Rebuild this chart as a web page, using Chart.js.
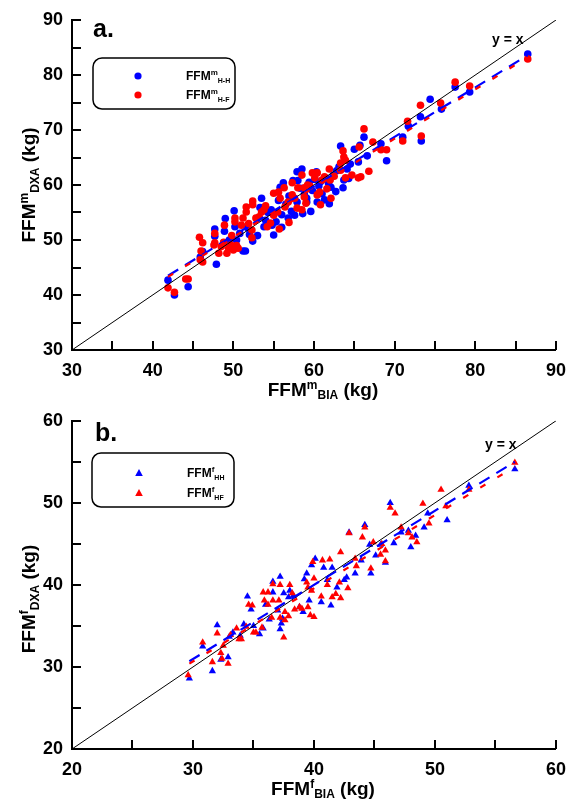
<!DOCTYPE html>
<html>
<head>
<meta charset="utf-8">
<script src="https://cdn.jsdelivr.net/npm/chart.js@4.4.1/dist/chart.umd.min.js"></script>
<style>
    body { margin: 0; background: #fff; }
    canvas { display: block; }
</style>
</head>
<body>
<canvas id="maleChart" width="576" height="401"></canvas>
<canvas id="femaleChart" width="576" height="402"></canvas>
<script>
// FFM male (kg): [BIA, DXA]
const maleHH = [
    [41.9,42.7],[42.7,40.0],[44.4,41.5],[45.9,46.9],[46.2,47.9],[47.9,45.6],[47.7,52.0],[47.7,50.7],[48.8,49.5],[48.9,51.6],
    [49.0,53.9],[49.5,50.0],[50.1,55.3],[50.2,52.4],[50.4,50.0],[50.8,51.2],[51.2,48.0],[51.5,48.0],[51.8,52.2],[52.0,51.0],
    [52.4,49.8],[52.9,53.8],[53.0,50.8],[53.3,55.9],[53.5,57.6],[53.8,52.4],[54.0,53.6],[54.3,55.0],[54.7,55.5],[54.8,52.7],
    [55.0,50.9],[55.3,53.3],[55.6,57.2],[55.8,59.6],[56.0,54.6],[56.0,52.3],[56.2,60.4],[56.5,56.5],[56.8,54.0],[56.9,58.0],
    [57.2,55.2],[57.4,60.8],[57.6,54.5],[57.9,62.4],[57.9,56.9],[58.0,60.8],[58.3,59.4],[58.5,62.9],[58.6,54.8],[58.8,58.3],
    [59.1,57.6],[59.1,56.9],[59.4,60.5],[59.6,55.2],[59.8,59.0],[60.1,61.0],[60.3,62.4],[60.4,56.9],[60.6,59.8],[60.8,60.6],
    [61.0,58.4],[61.3,57.3],[61.5,61.2],[61.8,60.3],[61.9,56.6],[62.1,59.6],[62.4,61.8],[62.7,58.8],[62.8,62.6],[63.1,63.3],
    [63.3,67.1],[63.6,59.5],[63.7,60.9],[64.1,62.9],[64.3,61.2],[64.5,63.8],[65.0,66.5],[65.5,64.2],[65.7,67.2],[66.2,68.7],
    [66.6,65.3],[68.3,67.5],[69.0,64.4],[71.0,68.7],[71.7,70.7],[73.2,72.4],[73.3,68.0],[74.4,75.6],[75.8,73.8],[77.5,77.8],
    [79.3,76.9],[86.5,83.8]
];
const maleHF = [
    [41.9,41.3],[42.7,40.5],[44.1,42.9],[44.4,42.9],[45.8,50.5],[45.9,46.4],[46.0,48.0],[46.2,49.5],[46.2,46.0],[47.6,49.1],
    [47.7,51.2],[47.7,49.5],[48.2,47.6],[48.5,48.8],[48.8,49.6],[48.9,52.7],[49.2,47.6],[49.4,48.5],[49.7,49.1],[49.8,50.8],
    [50.0,48.2],[50.2,54.0],[50.2,53.3],[50.4,49.0],[50.6,48.5],[51.0,52.7],[51.2,54.0],[51.6,56.0],[51.6,55.1],[51.9,53.0],
    [52.3,51.8],[52.3,50.4],[52.4,57.1],[52.4,56.4],[52.8,54.0],[53.2,54.2],[53.5,55.1],[53.8,55.5],[54.0,56.2],[54.2,52.4],
    [54.6,53.1],[55.0,58.5],[55.0,54.5],[55.5,55.1],[55.6,58.7],[55.7,52.0],[55.8,57.6],[56.3,59.5],[56.4,56.0],[56.8,56.9],
    [56.9,53.2],[57.3,60.4],[57.3,58.2],[57.6,57.6],[57.9,55.8],[58.0,59.5],[58.5,61.8],[58.5,55.5],[58.8,57.8],[58.8,59.5],
    [59.0,56.7],[59.2,60.0],[59.5,59.8],[59.8,62.2],[60.1,61.3],[60.4,62.2],[60.4,58.2],[60.7,58.7],[60.8,56.4],[61.0,60.9],
    [61.3,61.5],[61.6,59.3],[61.9,62.9],[62.0,60.9],[62.1,57.6],[62.5,61.6],[63.3,64.0],[63.3,62.7],[63.6,66.2],[63.7,65.1],
    [63.9,64.5],[63.9,61.3],[64.7,61.8],[65.5,61.3],[65.6,66.9],[65.8,61.5],[66.2,70.2],[66.8,62.5],[67.3,67.8],[68.3,66.4],
    [69.0,66.4],[71.0,68.0],[71.6,71.6],[73.2,74.5],[73.3,68.9],[75.7,74.9],[77.5,78.7],[79.3,78.0],[86.5,82.9]
];

// FFM female (kg): [BIA, DXA]
const femaleHH = [
    [29.7,28.6],[30.8,32.5],[31.6,29.5],[32.0,35.1],[32.3,30.9],[32.9,31.2],[33.0,33.7],[33.3,34.2],[33.9,33.8],[34.2,35.2],
    [34.5,38.6],[34.8,37.0],[35.0,35.0],[35.5,34.0],[35.8,34.7],[36.0,37.6],[36.3,35.8],[36.6,39.1],[36.6,40.4],[37.0,36.9],
    [37.2,41.0],[37.2,34.6],[37.3,35.3],[37.4,35.9],[37.5,39.0],[37.9,38.5],[38.0,39.3],[38.3,38.7],[38.8,37.3],[39.1,36.7],
    [39.2,40.7],[39.4,41.4],[39.6,38.1],[39.8,42.4],[40.1,43.2],[40.6,37.9],[40.8,42.1],[41.1,40.6],[41.4,37.5],[41.5,42.1],
    [41.9,39.7],[42.5,40.6],[42.7,40.9],[42.9,46.4],[43.4,41.4],[43.9,43.0],[44.2,47.3],[44.6,44.9],[44.7,41.4],[45.1,43.6],
    [45.5,44.9],[45.9,42.7],[46.3,50.0],[46.6,45.1],[47.2,46.4],[47.8,46.6],[48.0,44.6],[48.4,46.0],[49.1,47.0],[49.4,48.7],
    [51.0,47.9],[52.8,52.1],[56.6,54.1]
];
const femaleHF = [
    [29.6,29.0],[30.8,33.0],[31.6,30.6],[32.0,34.1],[32.3,31.7],[32.4,31.0],[32.5,32.6],[32.9,30.4],[33.1,33.9],[33.6,34.7],
    [33.8,33.4],[34.0,33.4],[34.4,34.9],[34.6,37.6],[34.9,37.5],[35.0,34.2],[35.2,34.2],[35.7,34.8],[35.8,39.1],[35.9,38.1],
    [36.2,37.6],[36.2,39.1],[36.5,36.0],[36.6,40.1],[36.6,38.1],[37.1,38.1],[37.2,40.0],[37.2,36.0],[37.5,33.6],[37.6,36.7],
    [37.6,35.7],[37.9,36.2],[38.0,40.0],[38.2,39.0],[38.4,37.0],[38.8,37.3],[39.0,37.1],[39.4,40.3],[39.5,37.3],[39.5,39.7],
    [39.7,36.3],[39.8,39.3],[39.9,42.8],[40.0,40.8],[40.0,36.1],[40.6,38.6],[40.7,43.0],[41.1,40.0],[41.3,43.1],[41.5,38.5],
    [41.8,38.9],[42.1,40.3],[42.2,44.0],[42.2,38.4],[42.8,39.6],[42.9,46.3],[43.4,43.2],[43.5,42.3],[44.0,45.8],[44.2,47.0],
    [44.7,42.0],[44.9,45.2],[45.5,43.7],[45.6,45.0],[45.9,44.2],[45.9,42.9],[46.3,49.4],[46.7,48.7],[47.2,47.0],[47.8,46.3],
    [48.1,45.8],[48.5,45.2],[49.0,49.9],[49.5,47.5],[50.5,51.6],[50.9,49.6],[52.8,51.6],[56.6,54.9]
];

// fitted lines, end points
const maleFitHH = [[41.9, 43.5], [86.5, 83.6]];
const maleFitHF = [[41.9, 43.3], [86.5, 83.2]];
const femaleFitHH = [[29.7, 30.7], [56.6, 55.0]];
const femaleFitHF = [[29.7, 30.4], [56.6, 54.4]];

const maleRange = [30, 90];
const femaleRange = [20, 60];

const FONT = '"Liberation Sans", Arial, sans-serif';
const BLUE = '#0000ff';
const RED = '#ff0000';

const toXY = arr => arr.map(p => ({ x: p[0], y: p[1] }));

// draws text pieces one after another (superscript / subscript)
function drawRich(ctx, parts, x, y, angle, align) {
    ctx.save();
    ctx.translate(x, y);
    ctx.rotate(angle || 0);
    let total = 0;
    parts.forEach(p => {
        ctx.font = 'bold ' + p.size + 'px ' + FONT;
        p.w = ctx.measureText(p.t).width;
        total += p.w;
    });
    let cx = align === 'left' ? 0 : -total / 2;
    ctx.fillStyle = '#000';
    ctx.textAlign = 'left';
    ctx.textBaseline = 'alphabetic';
    parts.forEach(p => {
        ctx.font = 'bold ' + p.size + 'px ' + FONT;
        ctx.fillText(p.t, cx, p.dy || 0);
        cx += p.w;
    });
    ctx.restore();
}

function roundBox(ctx, x, y, w, h, r) {
    ctx.beginPath();
    ctx.moveTo(x + r, y);
    ctx.arcTo(x + w, y, x + w, y + h, r);
    ctx.arcTo(x + w, y + h, x, y + h, r);
    ctx.arcTo(x, y + h, x, y, r);
    ctx.arcTo(x, y, x + w, y, r);
    ctx.closePath();
}

/**
 * Build one panel
 * cfg: canvas id, data, ranges, labels and legend layout
 */
function makePanel(cfg) {
    const ctx = document.getElementById(cfg.id).getContext('2d');
    const lo = cfg.range[0];
    const hi = cfg.range[1];

    const decor = {
        id: 'decor',
        afterDraw(chart) {
            const c = chart.ctx;
            const xs = chart.scales.x;
            const ys = chart.scales.y;
            const area = chart.chartArea;

            // inward tick marks
            c.save();
            c.strokeStyle = '#000';
            c.lineWidth = 2;
            c.beginPath();
            for (let v = lo; v <= hi; v += 5) {
                const px = Math.round(xs.getPixelForValue(v));
                c.moveTo(px, area.bottom);
                c.lineTo(px, area.bottom - 9);
                const py = Math.round(ys.getPixelForValue(v));
                c.moveTo(area.left, py);
                c.lineTo(area.left + 9, py);
            }
            c.stroke();
            c.restore();

            // panel letter and y = x label
            c.save();
            c.fillStyle = '#000';
            c.font = 'bold 25px ' + FONT;
            c.fillText(cfg.letter, cfg.letterPos[0], cfg.letterPos[1]);
            c.font = 'bold 14px ' + FONT;
            c.fillText('y = x', cfg.yxPos[0], cfg.yxPos[1]);
            c.restore();

            // axis titles
            drawRich(c, [
                { t: 'FFM', size: 19 },
                { t: cfg.sup, size: 12, dy: -7 },
                { t: 'BIA', size: 12, dy: 3 },
                { t: ' (kg)', size: 19 }
            ], cfg.xTitle[0], cfg.xTitle[1], 0);
            drawRich(c, [
                { t: 'FFM', size: 19 },
                { t: cfg.sup, size: 12, dy: -7 },
                { t: 'DXA', size: 12, dy: 4 },
                { t: ' (kg)', size: 19 }
            ], cfg.yTitle[0], cfg.yTitle[1], -Math.PI / 2);

            // legend
            const L = cfg.legend;
            c.save();
            c.strokeStyle = '#000';
            c.lineWidth = 1.5;
            roundBox(c, L.x, L.y, L.w, L.h, 9);
            c.stroke();
            c.restore();
            [[BLUE, L.labels[0], L.rows[0]], [RED, L.labels[1], L.rows[1]]].forEach(item => {
                c.save();
                c.fillStyle = item[0];
                c.beginPath();
                if (cfg.marker === 'circle') {
                    c.arc(L.mx, item[2], 3.6, 0, Math.PI * 2);
                } else {
                    c.moveTo(L.mx, item[2] - 4);
                    c.lineTo(L.mx + 3.8, item[2] + 3);
                    c.lineTo(L.mx - 3.8, item[2] + 3);
                    c.closePath();
                }
                c.fill();
                c.restore();
                drawRich(c, [
                    { t: 'FFM', size: 12 },
                    { t: cfg.sup, size: 8, dy: -5 },
                    { t: item[1], size: 7, dy: 3 }
                ], L.tx, item[2] + 4, 0, 'left');
            });
        }
    };

    const fitLine = (pts, color, dash) => ({
        data: toXY(pts),
        showLine: true,
        borderColor: color,
        borderWidth: 2.2,
        borderDash: dash,
        pointRadius: 0,
        order: 0
    });

    return new Chart(ctx, {
        type: 'scatter',
        data: {
            datasets: [
                fitLine(cfg.fitHF, RED, [6, 14]),
                fitLine(cfg.fitHH, BLUE, [12, 8]),
                {
                    // y = x reference line
                    data: toXY([[lo, lo], [hi, hi]]),
                    showLine: true,
                    borderColor: '#000',
                    borderWidth: 1,
                    pointRadius: 0,
                    order: 1
                },
                {
                    data: toXY(cfg.hf),
                    pointStyle: cfg.marker,
                    pointRadius: cfg.radius,
                    backgroundColor: RED,
                    borderColor: RED,
                    borderWidth: 0,
                    order: 2
                },
                {
                    data: toXY(cfg.hh),
                    pointStyle: cfg.marker,
                    pointRadius: cfg.radius,
                    backgroundColor: BLUE,
                    borderColor: BLUE,
                    borderWidth: 0,
                    order: 3
                }
            ]
        },
        options: {
            responsive: false,
            animation: false,
            devicePixelRatio: 1,
            layout: {
                padding: { left: 0, top: cfg.top, right: 9, bottom: 0 }
            },
            plugins: {
                legend: { display: false },
                tooltip: { enabled: false }
            },
            scales: {
                x: {
                    type: 'linear',
                    min: lo,
                    max: hi,
                    grid: { display: false, drawTicks: false },
                    border: { display: true, color: '#000', width: 2 },
                    ticks: {
                        stepSize: 5,
                        padding: 10,
                        color: '#000',
                        maxRotation: 0,
                        autoSkip: false,
                        font: { family: FONT, size: 18, weight: 'bold' },
                        callback: v => (v % 10 === 0 ? v : '')
                    },
                    afterFit(scale) { scale.height = cfg.xHeight; }
                },
                y: {
                    type: 'linear',
                    min: lo,
                    max: hi,
                    grid: { display: false, drawTicks: false },
                    border: { display: true, color: '#000', width: 2 },
                    ticks: {
                        stepSize: 5,
                        padding: 9,
                        color: '#000',
                        autoSkip: false,
                        font: { family: FONT, size: 18, weight: 'bold' },
                        callback: v => (v % 10 === 0 ? v : '')
                    },
                    afterFit(scale) { scale.width = 72; }
                }
            }
        },
        plugins: [decor]
    });
}

makePanel({
    id: 'maleChart',
    hh: maleHH, hf: maleHF,
    fitHH: maleFitHH, fitHF: maleFitHF,
    range: maleRange,
    marker: 'circle', radius: 3.8,
    top: 20, xHeight: 51,
    sup: 'm',
    letter: 'a.', letterPos: [93, 37],
    yxPos: [492, 44],
    xTitle: [323, 396],
    yTitle: [35, 185],
    legend: { x: 93, y: 58, w: 142, h: 51, mx: 138, rows: [76, 95], tx: 186, labels: ['H-H', 'H-F'] }
});

makePanel({
    id: 'femaleChart',
    hh: femaleHH, hf: femaleHF,
    fitHH: femaleFitHH, fitHF: femaleFitHF,
    range: femaleRange,
    marker: 'triangle', radius: 4.2,
    top: 19, xHeight: 54,
    sup: 'f',
    letter: 'b.', letterPos: [95, 40],
    yxPos: [485, 48],
    xTitle: [323, 394],
    yTitle: [35, 198],
    legend: { x: 92, y: 52, w: 142, h: 54, mx: 139, rows: [72, 92], tx: 187, labels: ['HH', 'HF'] }
});
</script>
</body>
</html>
